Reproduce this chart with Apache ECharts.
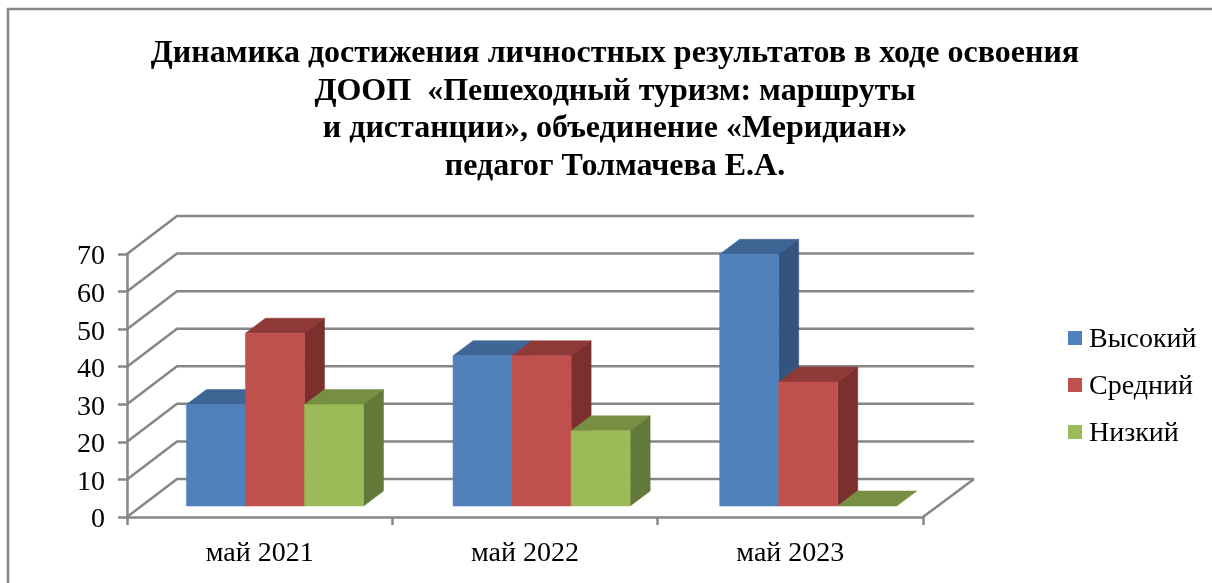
<!DOCTYPE html>
<html>
<head>
<meta charset="utf-8">
<title>Динамика</title>
<script src="https://cdn.jsdelivr.net/npm/echarts@6/dist/echarts.min.js"></script>
<style>
html, body { margin: 0; padding: 0; background: #fff; }
#chart { width: 1212px; height: 583px; }
</style>
</head>
<body>
<div id="chart"></div>
<script>
const categories = ['май 2021', 'май 2022', 'май 2023']
const vysokiy = [27, 40, 67]
const sredniy = [46, 40, 33]
const nizkiy = [27, 20, 0]
const tickValues = [0, 10, 20, 30, 40, 50, 60, 70]
const titleText = 'Динамика достижения личностных результатов в ходе освоения\n' +
  'ДООП  «Пешеходный туризм: маршруты\n' +
  'и дистанции», объединение «Меридиан»\n' +
  'педагог Толмачева Е.А.'

const font = '"Liberation Serif", "Times New Roman", serif'
const gridColor = '#868686'
const gridWidth = 2.5

// псевдо-3D: смещение задней стенки и глубина столбика
const wallDx = 50
const wallDy = -38
const barDx = 20
const barDy = -15
const floorDx = 15.3
const floorDy = -11
const barWidthPart = 0.2225
const stepFix = 1.3 // шаг групп столбиков чуть больше шага оси

const renderWall = (params, api) => {
  const cs = params.coordSys
  const y = api.coord([0, api.value(1)])[1]
  const right = cs.x + cs.width
  const style = {stroke: gridColor, lineWidth: gridWidth, fill: 'none'}
  const children = [{
    type: 'polyline',
    shape: {points: [[cs.x, y], [cs.x + wallDx, y + wallDy], [right + wallDx + 1, y + wallDy]]},
    style: style
  }]
  if (api.value(1) === 0) {
    children.push({
      type: 'line',
      shape: {x1: right, y1: y, x2: right + wallDx + 1, y2: y + wallDy},
      style: style
    })
  }
  return {type: 'group', children: children}
}

const makeBarRender = (slot, front, top, side) => (params, api) => {
  const base = api.coord([api.value(0), 0])
  const head = api.coord([api.value(0), api.value(1)])
  const w = api.size([1, 0])[0] * barWidthPart
  const x0 = base[0] + floorDx + api.value(0) * stepFix + (slot - 1.5) * w
  const x1 = x0 + w
  const yb = base[1] + floorDy
  const yt = head[1] + floorDy
  const face = (points, color) => ({
    type: 'polygon',
    shape: {points: points},
    style: {fill: color, stroke: color, lineWidth: 0.5}
  })
  const children = [
    face([[x0, yt], [x0 + barDx, yt + barDy], [x1 + barDx, yt + barDy], [x1, yt]], top)
  ]
  if (yb - yt > 0.5) {
    children.push(face([[x1, yt], [x1 + barDx, yt + barDy], [x1 + barDx, yb + barDy], [x1, yb]], side))
    children.push(face([[x0, yt], [x1, yt], [x1, yb], [x0, yb]], front))
  }
  return {type: 'group', children: children}
}

const barSeries = (name, values, slot, front, top, side) => ({
  name: name,
  type: 'custom',
  z: 5,
  itemStyle: {color: front},
  encode: {x: 0, y: 1},
  data: values.map((v, i) => [i, v]),
  renderItem: makeBarRender(slot, front, top, side)
})

const chart = echarts.init(document.getElementById('chart'))
chart.setOption({
  animation: false,
  backgroundColor: '#fff',
  title: {
    text: titleText,
    left: 610,
    top: 30,
    textAlign: 'center',
    textStyle: {fontFamily: font, fontSize: 32, fontWeight: 'bold', color: '#000', lineHeight: 37.5}
  },
  legend: {
    orient: 'vertical',
    left: 1063,
    top: 321,
    itemWidth: 14,
    itemHeight: 14,
    itemGap: 19,
    icon: 'rect',
    data: ['Высокий', 'Средний', 'Низкий'],
    formatter: name => '{n|' + name + '}',
    textStyle: {
      rich: {n: {fontFamily: font, fontSize: 28, color: '#000', padding: [4, 0, 0, 2]}}
    }
  },
  grid: {left: 127, right: 289, top: 254, bottom: 66},
  xAxis: {
    type: 'category',
    data: categories,
    axisLine: {lineStyle: {color: gridColor, width: gridWidth}},
    axisTick: {show: true, alignWithLabel: false, length: 8, lineStyle: {color: gridColor, width: gridWidth}},
    axisLabel: {fontFamily: font, fontSize: 28, color: '#000', margin: 23}
  },
  yAxis: {
    type: 'value',
    min: 0,
    max: 70,
    interval: 10,
    splitLine: {show: false},
    axisLine: {show: true, lineStyle: {color: gridColor, width: gridWidth}},
    axisTick: {show: true, length: 9, lineStyle: {color: gridColor, width: gridWidth}},
    axisLabel: {
      margin: 22,
      formatter: v => '{v|' + v + '}',
      rich: {v: {fontFamily: font, fontSize: 28, color: '#000', padding: [6, 0, 0, 0]}}
    }
  },
  graphic: [{
    type: 'polyline',
    silent: true,
    shape: {points: [[8, 583], [8, 9], [1212, 9]]},
    style: {fill: 'none', stroke: gridColor, lineWidth: gridWidth}
  }],
  series: [
    {
      type: 'custom',
      z: 1,
      silent: true,
      encode: {x: 0, y: 1},
      data: tickValues.map(v => [0, v]),
      renderItem: renderWall
    },
    barSeries('Высокий', vysokiy, 0, '#4F81BD', '#3F6594', '#32547E'),
    barSeries('Средний', sredniy, 1, '#C0504D', '#8F3A38', '#7B302E'),
    barSeries('Низкий', nizkiy, 2, '#9BBB59', '#778F43', '#637939')
  ]
})
</script>
</body>
</html>
